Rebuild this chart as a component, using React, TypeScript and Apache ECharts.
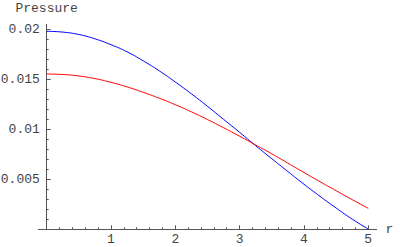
import React, { useEffect, useRef } from "react";
import * as echarts from "echarts";

const rValues = [0, 0.25, 0.5, 0.75, 1, 1.25, 1.5, 1.75, 2, 2.25, 2.5, 2.75, 3, 3.25, 3.5, 3.75, 4, 4.25, 4.5, 4.75, 5];
const bluePressure = [0.0198, 0.01972, 0.01948, 0.01905, 0.01846, 0.01775, 0.01685, 0.01585, 0.01473, 0.01355, 0.0123, 0.011, 0.0097, 0.00836, 0.00706, 0.00578, 0.00451, 0.0033, 0.00213, 0.00102, 0.00003];
const redPressure = [0.01553, 0.01548, 0.01533, 0.01507, 0.0147, 0.01424, 0.0137, 0.01311, 0.01246, 0.01175, 0.01098, 0.01016, 0.00931, 0.00843, 0.00755, 0.00662, 0.00568, 0.00476, 0.00386, 0.00297, 0.0021];

const xMajorTicks = [1, 2, 3, 4, 5];
const xMinorTicks = [0.2, 0.4, 0.6, 0.8, 1.2, 1.4, 1.6, 1.8, 2.2, 2.4, 2.6, 2.8, 3.2, 3.4, 3.6, 3.8, 4.2, 4.4, 4.6, 4.8];
const yMajorTicks = [0.005, 0.01, 0.015, 0.02];
const yMinorTicks = [0.001, 0.002, 0.003, 0.004, 0.006, 0.007, 0.008, 0.009, 0.011, 0.012, 0.013, 0.014, 0.016, 0.017, 0.018, 0.019];

const FONT = "Liberation Mono";
const TEXT_COLOR = "#444";
const AXIS_COLOR = "#555";

export default function App() {
  const ref = useRef<HTMLDivElement>(null);
  useEffect(() => {
    if (!ref.current) return;
    const chart = echarts.init(ref.current, null, { renderer: "svg" });
    const blueData = rValues.map((r, i) => [r, bluePressure[i]]);
    const redData = rValues.map((r, i) => [r, redPressure[i]]);
    const xMin = -0.13;
    const xMax = 5.13;
    const yMin = 0;
    const yMax = 0.0205;
    chart.setOption({
      animation: false,
      backgroundColor: "#fff",
      grid: { left: 38.3, right: 23.4, top: 24.3, bottom: 17.7, outerBoundsMode: "none" },
      xAxis: [
        {
          type: "value",
          min: xMin,
          max: xMax,
          name: "r",
          nameLocation: "end",
          nameGap: 9,
          nameTextStyle: { fontFamily: FONT, fontSize: 13, color: TEXT_COLOR, verticalAlign: "middle" },
          axisLine: { show: true, onZero: true, lineStyle: { color: AXIS_COLOR, width: 1 } },
          axisTick: { show: true, inside: true, length: 4, customValues: xMajorTicks, lineStyle: { color: AXIS_COLOR } },
          axisLabel: { show: true, customValues: xMajorTicks, margin: 4, fontFamily: FONT, fontSize: 13, color: TEXT_COLOR },
          splitLine: { show: false },
        },
        {
          type: "value",
          min: xMin,
          max: xMax,
          position: "bottom",
          axisLine: { show: false },
          axisTick: { show: true, inside: true, length: 2, customValues: xMinorTicks, lineStyle: { color: AXIS_COLOR } },
          axisLabel: { show: false },
          splitLine: { show: false },
        },
      ],
      yAxis: [
        {
          type: "value",
          min: yMin,
          max: yMax,
          name: "Pressure",
          nameLocation: "end",
          nameGap: 9,
          nameTextStyle: { fontFamily: FONT, fontSize: 13, color: TEXT_COLOR, align: "center" },
          axisLine: { show: true, onZero: true, onZeroAxisIndex: 0, lineStyle: { color: AXIS_COLOR, width: 1 } },
          axisTick: { show: true, inside: true, length: 4, customValues: yMajorTicks, lineStyle: { color: AXIS_COLOR } },
          axisLabel: {
            show: true,
            customValues: yMajorTicks,
            margin: -1.5,
            fontFamily: FONT,
            fontSize: 13,
            color: TEXT_COLOR,
            formatter: (v: number) => String(v),
          },
          splitLine: { show: false },
        },
        {
          type: "value",
          min: yMin,
          max: yMax,
          position: "left",
          axisLine: { show: true, onZero: true, onZeroAxisIndex: 0, lineStyle: { color: AXIS_COLOR, opacity: 0 } },
          axisTick: { show: true, inside: true, length: 2, customValues: yMinorTicks, lineStyle: { color: AXIS_COLOR } },
          axisLabel: { show: false },
          splitLine: { show: false },
        },
      ],
      series: [
        {
          type: "line",
          data: blueData,
          xAxisIndex: 0,
          yAxisIndex: 0,
          showSymbol: false,
          smooth: true,
          lineStyle: { color: "#0000ff", width: 1 },
        },
        {
          type: "line",
          data: redData,
          xAxisIndex: 0,
          yAxisIndex: 0,
          showSymbol: false,
          smooth: true,
          lineStyle: { color: "#ff0000", width: 1 },
        },
      ],
    });
    return () => chart.dispose();
  }, []);
  return (
    <div
      ref={ref}
      style={{ position: "fixed", left: 0, top: 0, width: 400, height: 247, background: "#fff" }}
    />
  );
}
